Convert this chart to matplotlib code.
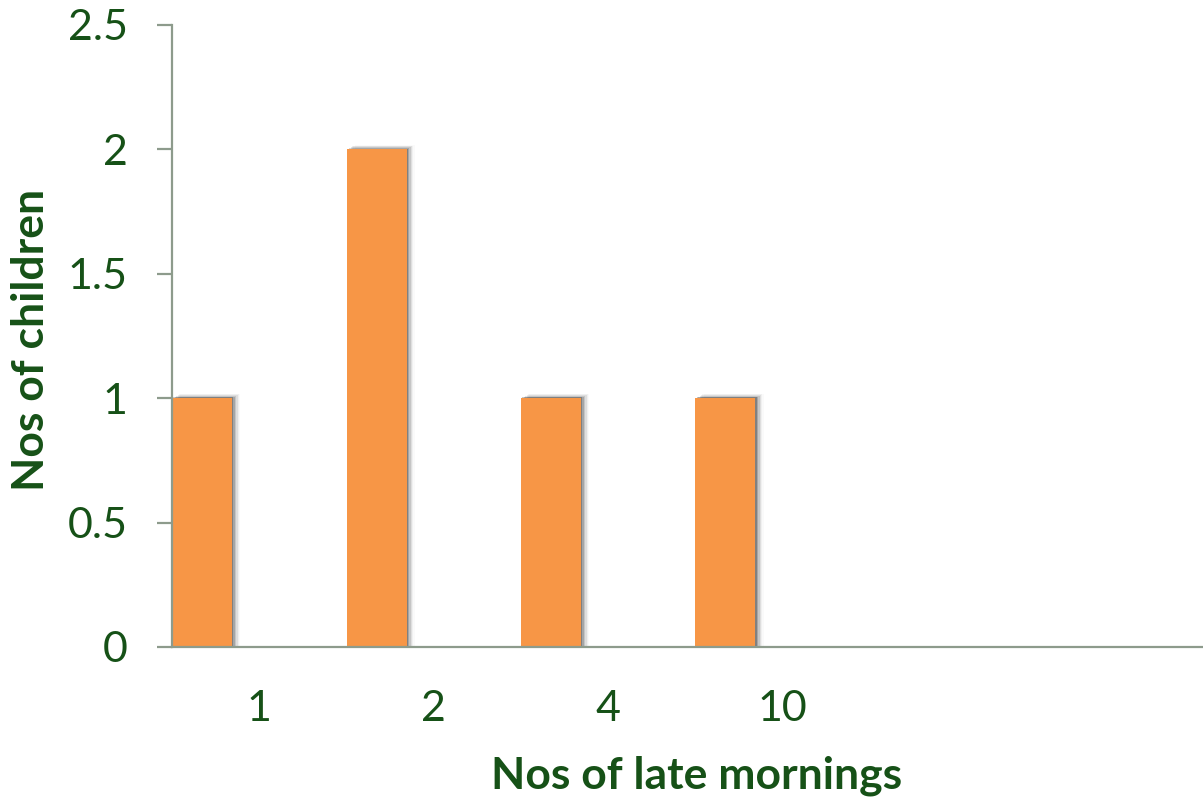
import matplotlib.pyplot as plt
import numpy as np

# late mornings per child, and how many children had that count
late_mornings = ["1", "2", "4", "10", "", ""]
children = [1, 2, 1, 1, 0, 0]
y_ticks = [0, 0.5, 1, 1.5, 2, 2.5]
y_tick_labels = ["0", "0.5", "1", "1.5", "2", "2.5"]

green = "#165117"
spine = "#8d9b8c"
orange = "#f79646"

plt.rcParams["font.family"] = ["Lato", "DejaVu Sans"]

W, H = 1203, 798
fig = plt.figure(figsize=(W / 100, H / 100), dpi=100)
ax = fig.add_axes([172 / W, (H - 647) / H, (W - 172) / W, (647 - 25) / H])

x = np.arange(len(children))
vals = np.array(children, dtype=float)
bar_w = 60 / 174.5

# soft drop shadow to the right of each non-empty bar
has = vals > 0
for k, a in enumerate([0.22, 0.16, 0.11, 0.07, 0.04, 0.02]):
    dx = (k + 1) * 1.4 / 174.5
    ax.bar(x[has] + dx, vals[has] + 0.003 * (k + 1), width=bar_w, align="edge",
           color="black", alpha=a, linewidth=0, zorder=2)
ax.bar(x, vals, width=bar_w, align="edge", color=orange, linewidth=0, zorder=3)

ax.set_xlim(0, (W - 172) / 174.5)
ax.set_ylim(0, 2.5)
ax.set_xticks(x + 0.5)
ax.set_xticklabels(late_mornings)
ax.set_yticks(y_ticks)
ax.set_yticklabels(y_tick_labels)

for s in ["top", "right"]:
    ax.spines[s].set_visible(False)
for s in ["left", "bottom"]:
    ax.spines[s].set_color(spine)
    ax.spines[s].set_linewidth(1.6)
    ax.spines[s].set_zorder(4)

ax.tick_params(axis="y", length=11, width=1.6, color=spine, pad=21,
               labelsize=31, labelcolor=green)
ax.tick_params(axis="x", length=0, pad=31, labelsize=31, labelcolor=green)

# axis titles placed in figure pixels
fig.text(697 / W, (H - 788) / H, "Nos of late mornings", fontsize=32,
         fontweight="bold", color=green, ha="center", va="baseline")
fig.text(31 / W, (H - 340) / H, "Nos of children", fontsize=32,
         fontweight="bold", color=green, ha="center", va="center", rotation=90)

fig.savefig("out.png", dpi=100)
